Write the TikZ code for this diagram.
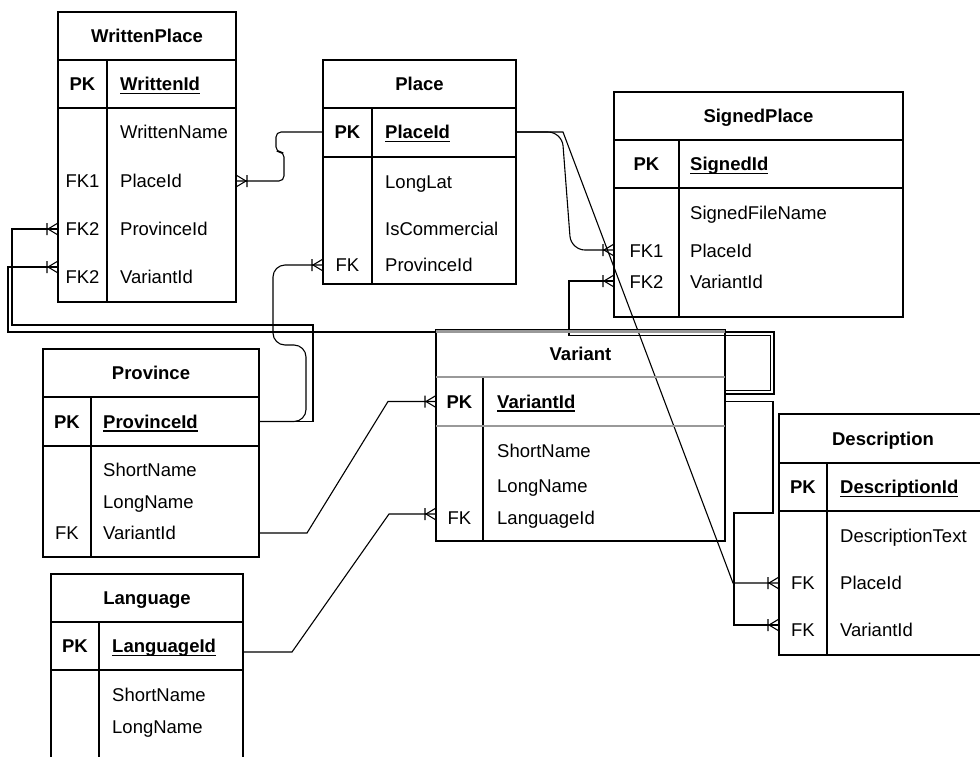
\documentclass[tikz,border=0pt]{standalone}
\usepackage{fontspec}
\setmainfont{Liberation Sans}
\usetikzlibrary{fit,calc}
\newcommand\pkname[1]{\setbox0=\hbox{#1}\rlap{\rule[-3.5pt]{\wd0}{1.3pt}}\box0}
\newcommand\ertbl[8]{%
  \coordinate (#1-nw) at (#2,#3);
  \coordinate (#1-se) at (#4,#5);
  \node[tbl, fit=(#1-nw)(#1-se)] (#1) {};
  \draw[tblline] (#2,#6) -- (#4,#6) (#2,#7) -- (#4,#7) (#8,#6) -- (#8,#5);
}
\begin{document}
\begin{tikzpicture}[x=1pt,y=-1pt,
  tbl/.style={draw, line width=1.3pt, inner sep=0pt, outer sep=0pt},
  tblline/.style={line width=1.3pt},
  txt/.style={inner sep=0pt, text height=13pt, text depth=0pt, font=\fontsize{18.5}{22}\selectfont},
  bold/.style={txt, font=\fontsize{18.5}{22}\selectfont\bfseries},
  fld/.style={txt, anchor=west},
  pkf/.style={bold, anchor=west},
  conn/.style={line width=1.1pt},
  crow/.pic={\draw[line width=1.1pt] (-10,0) -- (0,-6) (-10,0) -- (0,6) (-11,-6) -- (-11,6);}
]
\useasboundingbox (0,0) rectangle (980,756);
\fill[white] (0,0) rectangle (980,756);
\clip (0,0) rectangle (980,756);

% ---------- tables ----------
\ertbl{wp}{58}{12}{236}{302}{60}{108}{107}
\ertbl{pl}{323}{60}{516}{284}{108}{157}{372}
\ertbl{sp}{614}{92}{903}{317}{140}{188}{679}
\ertbl{pr}{43}{349}{259}{557}{397}{446}{91}
\ertbl{la}{51}{574}{243}{790}{622}{670}{99}
\ertbl{va}{436}{330}{725}{541}{377}{426}{483}
\ertbl{de}{779}{414}{990}{655}{463}{511}{827}

% WrittenPlace
\node[bold] (wp-t) at (147,36) {WrittenPlace};
\node[bold] (wp-pk) at (82.5,84) {PK};
\node[pkf] (wp-id) at (120,84) {\pkname{WrittenId}};
\node[fld] (wp-f1) at (120,132) {WrittenName};
\node[fld] (wp-f2) at (120,181) {PlaceId};
\node[fld] (wp-f3) at (120,229) {ProvinceId};
\node[fld] (wp-f4) at (120,277) {VariantId};
\node[txt] (wp-k2) at (82.5,181) {FK1};
\node[txt] (wp-k3) at (82.5,229) {FK2};
\node[txt] (wp-k4) at (82.5,277) {FK2};

% Place
\node[bold] (pl-t) at (419.5,84) {Place};
\node[bold] (pl-pk) at (347.5,132) {PK};
\node[pkf] (pl-id) at (385,132) {\pkname{PlaceId}};
\node[fld] (pl-f1) at (385,182) {LongLat};
\node[fld] (pl-f2) at (385,229) {IsCommercial};
\node[fld] (pl-f3) at (385,265) {ProvinceId};
\node[txt] (pl-k3) at (347.5,265) {FK};

% SignedPlace
\node[bold] (sp-t) at (758.5,116) {SignedPlace};
\node[bold] (sp-pk) at (646.5,164) {PK};
\node[pkf] (sp-id) at (690,164) {\pkname{SignedId}};
\node[fld] (sp-f1) at (690,213) {SignedFileName};
\node[fld] (sp-f2) at (690,251) {PlaceId};
\node[fld] (sp-f3) at (690,282) {VariantId};
\node[txt] (sp-k2) at (646.5,251) {FK1};
\node[txt] (sp-k3) at (646.5,282) {FK2};

% Province
\node[bold] (pr-t) at (151,373) {Province};
\node[bold] (pr-pk) at (67,421.5) {PK};
\node[pkf] (pr-id) at (103,421.5) {\pkname{ProvinceId}};
\node[fld] (pr-f1) at (103,470) {ShortName};
\node[fld] (pr-f2) at (103,502) {LongName};
\node[fld] (pr-f3) at (103,533) {VariantId};
\node[txt] (pr-k3) at (67,533) {FK};

% Language
\node[bold] (la-t) at (147,598) {Language};
\node[bold] (la-pk) at (75,646) {PK};
\node[pkf] (la-id) at (112,646) {\pkname{LanguageId}};
\node[fld] (la-f1) at (112,695) {ShortName};
\node[fld] (la-f2) at (112,727) {LongName};

% Variant
\node[bold] (va-t) at (580.5,353.5) {Variant};
\node[bold] (va-pk) at (459.5,401.5) {PK};
\node[pkf] (va-id) at (497,401.5) {\pkname{VariantId}};
\node[fld] (va-f1) at (497,451) {ShortName};
\node[fld] (va-f2) at (497,486) {LongName};
\node[fld] (va-f3) at (497,518) {LanguageId};
\node[txt] (va-k3) at (459.5,518) {FK};

% Description
\node[bold] (de-t) at (883,438.5) {Description};
\node[bold] (de-pk) at (803,487) {PK};
\node[pkf] (de-id) at (840,487) {\pkname{DescriptionId}};
\node[fld] (de-f1) at (840,536) {DescriptionText};
\node[fld] (de-f2) at (840,583) {PlaceId};
\node[fld] (de-f3) at (840,630) {VariantId};
\node[txt] (de-k2) at (803,583) {FK};
\node[txt] (de-k3) at (803,630) {FK};

% ---------- connectors ----------
% Place.PlaceId -> WrittenPlace.PlaceId
\draw[conn, rounded corners=5pt] (pl.west |- pl-id) -- (276,132) -- (276,152) -- (284,152) -- (284,181) -- (wp.east |- wp-f2);
\pic[rotate=180] at (wp.east |- wp-f2) {crow};
% Province.ProvinceId -> WrittenPlace.ProvinceId
\draw[conn] (pr.east |- pr-id) -- (313,421.5) -- (313,325) -- (12,325) -- (12,229) -- (wp.west |- wp-f3);
\pic at (wp.west |- wp-f3) {crow};
% Variant.VariantId -> WrittenPlace.VariantId
\draw[conn] ($(va.east |- va-id)+(0,-7.5)$) -- (774,394) -- (774,332) -- (8,332) -- (8,267) -- ($(wp.west |- wp-f4)+(0,-10)$);
\pic at ($(wp.west |- wp-f4)+(0,-10)$) {crow};
% Variant.VariantId -> SignedPlace.VariantId
\draw[conn] ($(va.east |- va-id)+(0,-11)$) -- (770.5,390.5) -- (770.5,335.5) -- (569,335.5) -- (569,281) -- ($(sp.west |- sp-f3)+(0,-1)$);
\pic at ($(sp.west |- sp-f3)+(0,-1)$) {crow};
% Variant.VariantId -> Description.VariantId
\draw[conn] (va.east |- va-id) -- (773,401.5) -- (773,513) -- (734,513) -- (734,625) -- ($(de.west |- de-f3)+(0,-5)$);
\pic at ($(de.west |- de-f3)+(0,-5)$) {crow};
% Place.PlaceId -> Description.PlaceId
\draw[conn] (pl.east |- pl-id) -- (563,132) -- (733,583) -- (de.west |- de-f2);
\pic at (de.west |- de-f2) {crow};
% Place.PlaceId -> SignedPlace.PlaceId
\draw[conn, rounded corners=14pt] (pl.east |- pl-id) -- (562,132) -- (571,250) -- ($(sp.west |- sp-f2)+(0,-1)$);
\pic at ($(sp.west |- sp-f2)+(0,-1)$) {crow};
% Province.ProvinceId -> Place.ProvinceId
\draw[conn, rounded corners=12pt] (pr.east |- pr-id) -- (306,421.5) -- (306,345) -- (273,345) -- (273,265) -- (pl.west |- pl-f3);
\pic at (pl.west |- pl-f3) {crow};
% Variant.VariantId -> Province.VariantId
\draw[conn] (pr.east |- pr-f3) -- (307,533) -- (388,401.5) -- (va.west |- va-id);
\pic at (va.west |- va-id) {crow};
% Language.LanguageId -> Variant.LanguageId
\draw[conn] ($(la.east |- la-id)+(0,6)$) -- (292,652) -- (389,514) -- ($(va.west |- va-f3)+(0,-4)$);
\pic at ($(va.west |- va-f3)+(0,-4)$) {crow};

% gray separators of Variant
\draw[gray!80, line width=3.5pt] (436,331.5) -- (725,331.5);
\draw[gray!80, line width=2.2pt] (436,377) -- (725,377) (436,426) -- (725,426);
\end{tikzpicture}
\end{document}
